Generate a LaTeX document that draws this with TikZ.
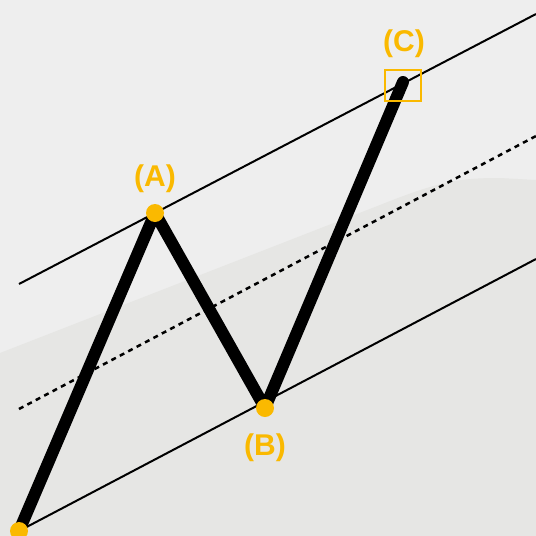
\documentclass[tikz,border=0pt]{standalone}
\usepackage{fontspec}
\setmainfont{Liberation Sans}
\definecolor{bgtop}{HTML}{EEEEEE}
\definecolor{bgbot}{HTML}{E6E6E4}
\definecolor{amber}{RGB}{250,185,0}
\tikzset{
  wave/.style={line width=12pt, line cap=round, line join=round, black},
  chan/.style={line width=2pt, black},
  midline/.style={line width=2.5pt, black, dash pattern=on 5pt off 4.5pt},
  pivot/.style={circle, fill=amber, inner sep=0pt, minimum size=18pt},
  target/.style={draw=amber, line width=2pt, minimum width=36pt, minimum height=31pt, inner sep=0pt},
  lbl/.style={text=amber, font=\fontsize{30}{32}\selectfont\bfseries, inner sep=0pt}
}
\begin{document}
\begin{tikzpicture}[x=1pt,y=-1pt]
\useasboundingbox (0,0) rectangle (536,536);
\fill[bgtop] (0,0) rectangle (536,536);
\fill[bgbot] (0,353) -- (380,205) .. controls (440,181) and (460,178) .. (500,178) -- (536,180) -- (536,536) -- (0,536) -- cycle;
% channel coordinates
\coordinate (U1) at (19,284);
\coordinate (U2) at (536,14);
\coordinate (M1) at (19,409);
\coordinate (M2) at (536,136);
\coordinate (L2) at (536,259);
% wave points
\coordinate (O) at (19,531);
\coordinate (A) at (155,213);
\coordinate (B) at (265,408);
\coordinate (C) at (403,82);
\draw[chan] (U1) -- (U2);
\draw[midline] (M1) -- (M2);
\draw[chan] (O) -- (L2);
\draw[wave] (O) -- (A) -- (B) -- (C);
\node[pivot] (pO) at (O) {};
\node[pivot] (pA) at (A) {};
\node[pivot] (pB) at (B) {};
\node[target] (pC) at (403,85) {};
\node[lbl] (labA) at (155,179) {(A)};
\node[lbl] (labB) at (265,448) {(B)};
\node[lbl] (labC) at (404,44) {(C)};
\end{tikzpicture}
\end{document}
